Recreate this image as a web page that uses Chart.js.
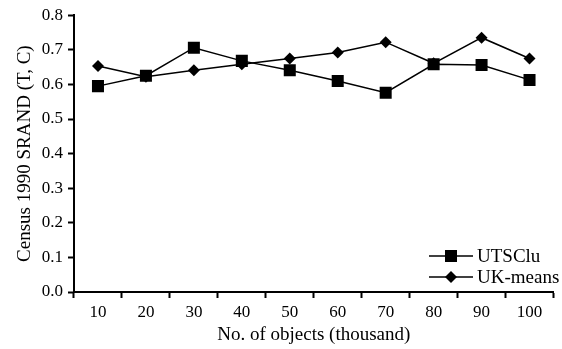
<!DOCTYPE html>
<html>
<head>
<meta charset="utf-8">
<script src="https://cdn.jsdelivr.net/npm/chart.js@4/dist/chart.umd.min.js"></script>
<style>
  body { margin: 0; background: #fff; }
  #wrap { width: 562px; height: 349px; }
</style>
</head>
<body>
<div id="wrap"><canvas id="srandChart" width="562" height="349"></canvas></div>
<script>
// Chart data
const objectCounts = ['10', '20', '30', '40', '50', '60', '70', '80', '90', '100'];
const utsCluValues = [0.595, 0.625, 0.706, 0.668, 0.641, 0.610, 0.576, 0.658, 0.656, 0.613];
const ukMeansValues = [0.653, 0.622, 0.641, 0.658, 0.675, 0.692, 0.722, 0.661, 0.735, 0.675];
const seriesNames = ['UTSClu', 'UK-means'];

const FONT = "'Liberation Serif', 'Times New Roman', serif";

// Legend drawn as line + marker, like the original figure
const lineLegend = {
    id: 'lineLegend',
    afterDraw(chart) {
        const ctx = chart.ctx;
        const rows = [256, 277];
        chart.data.datasets.forEach((ds, i) => {
            const y = rows[i];
            ctx.save();
            ctx.strokeStyle = ds.borderColor;
            ctx.lineWidth = ds.borderWidth;
            ctx.beginPath();
            ctx.moveTo(429, y);
            ctx.lineTo(473, y);
            ctx.stroke();
            ctx.fillStyle = ds.pointBackgroundColor;
            Chart.helpers.drawPoint(ctx, {
                pointStyle: ds.pointStyle,
                radius: ds.pointRadius,
                borderWidth: 0
            }, 451, y);
            ctx.fillStyle = '#000';
            ctx.font = '19px ' + FONT;
            ctx.textBaseline = 'middle';
            ctx.textAlign = 'left';
            ctx.fillText(ds.label, 477, y + 1);
            ctx.restore();
        });
    }
};

const ctx = document.getElementById('srandChart').getContext('2d');
const srandChart = new Chart(ctx, {
    type: 'line',
    data: {
        labels: objectCounts,
        datasets: [{
            label: seriesNames[0],
            data: utsCluValues,
            borderColor: '#000',
            borderWidth: 1.5,
            pointStyle: 'rect',
            pointRadius: 8.5,
            pointBackgroundColor: '#000',
            pointBorderWidth: 0,
            tension: 0
        }, {
            label: seriesNames[1],
            data: ukMeansValues,
            borderColor: '#000',
            borderWidth: 1.5,
            pointStyle: 'rectRot',
            pointRadius: 6,
            pointBackgroundColor: '#000',
            pointBorderWidth: 0,
            tension: 0
        }]
    },
    options: {
        responsive: false,
        animation: false,
        layout: { padding: { top: 15, right: 0, left: 0, bottom: 0 } },
        plugins: {
            legend: { display: false },
            tooltip: { enabled: false }
        },
        scales: {
            x: {
                offset: true,
                grid: { offset: true, drawOnChartArea: false, tickLength: 6, tickWidth: 2, tickColor: '#000' },
                border: { color: '#000', width: 2 },
                ticks: { color: '#000', padding: 4, font: { family: FONT, size: 17 }, maxRotation: 0 },
                title: {
                    display: true,
                    text: 'No. of objects (thousand)',
                    color: '#000',
                    font: { family: FONT, size: 19 },
                    padding: { top: 0, bottom: 3 }
                },
                afterFit(scale) { scale.height = 57; }
            },
            y: {
                min: 0,
                max: 0.8,
                grid: { drawOnChartArea: false, tickLength: 6, tickWidth: 2, tickColor: '#000' },
                border: { color: '#000', width: 2 },
                ticks: {
                    stepSize: 0.1,
                    color: '#000',
                    padding: 5,
                    font: { family: FONT, size: 17 },
                    callback: v => v.toFixed(1)
                },
                title: {
                    display: true,
                    text: 'Census 1990 SRAND (T, C)',
                    color: '#000',
                    font: { family: FONT, size: 19 },
                    padding: { top: 14, bottom: 0 }
                },
                afterFit(scale) { scale.width = 74; }
            }
        }
    },
    plugins: [lineLegend]
});
</script>
</body>
</html>
